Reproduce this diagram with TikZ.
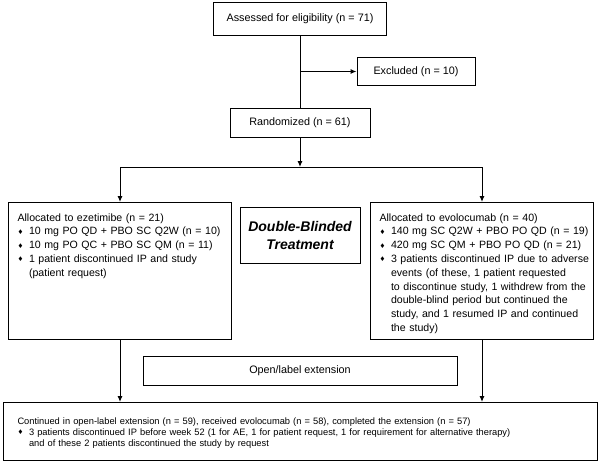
\documentclass[tikz,border=0pt]{standalone}
\usepackage{fontspec}
\setmainfont{Liberation Sans}
\newfontfamily\symfont{DejaVu Sans}
\usetikzlibrary{arrows.meta,positioning}

\newcommand{\dmd}{\makebox[11.5pt][l]{\raisebox{0.6pt}{\symfont\fontsize{6.5}{6.5}\selectfont ♦}}}
\newcommand{\itm}[1]{\mbox{\dmd#1}}
\newcommand{\cnt}[1]{\mbox{\hspace*{11.5pt}#1}}

\begin{document}
\begin{tikzpicture}[x=1pt,y=-1pt,>={Latex[length=6pt,width=5pt]},line width=1pt,
   box/.style={draw,inner sep=0pt,font=\fontsize{10.8}{13.8}\selectfont},
   listbox/.style={draw,anchor=north west,align=left,inner xsep=9pt,inner ysep=11pt,
      font=\fontsize{10.6}{13.8}\selectfont}]
   \useasboundingbox (0,0) rectangle (600,463);
   \node[box,minimum width=173pt,minimum height=33pt] (assess) at (300,18.5) {Assessed for eligibility (n = 71)};
   \node[box,minimum width=118pt,minimum height=28pt] (excl) at (416,71.5) {Excluded (n = 10)};
   \node[box,minimum width=140pt,minimum height=29pt] (rand) at (300,122.5) {Randomized (n = 61)};
   \node[listbox,text width=205pt,text depth=107pt] (ezet) at (8,202)
      {Allocated to ezetimibe (n = 21)\\
       \itm{10 mg PO QD + PBO SC Q2W (n = 10)}\\
       \itm{10 mg PO QC + PBO SC QM (n = 11)}\\
       \itm{1 patient discontinued IP and study}\\
       \cnt{(patient request)}};
   \node[box,minimum width=120pt,minimum height=56pt,align=center,
      font=\fontsize{14}{18}\selectfont\bfseries\itshape] (blind) at (300,235) {Double-Blinded\\Treatment};
   \node[listbox,text width=205pt,text depth=107pt] (evol) at (370,202)
      {Allocated to evolocumab (n = 40)\\
       \itm{140 mg SC Q2W + PBO PO QD (n = 19)}\\
       \itm{420 mg SC QM + PBO PO QD (n = 21)}\\
       \itm{3 patients discontinued IP due to adverse}\\
       \cnt{events (of these, 1 patient requested}\\
       \cnt{to discontinue study, 1 withdrew from the}\\
       \cnt{double-blind period but continued the}\\
       \cnt{study, and 1 resumed IP and continued}\\
       \cnt{the study)}};
   \node[box,minimum width=314pt,minimum height=29pt] (olext) at (300,370.5) {Open/label extension};
   \node[listbox,text width=566pt,inner xsep=14pt,inner ysep=15pt,text depth=21pt,
      font=\fontsize{9.3}{11}\selectfont] (cont) at (3,402)
      {Continued in open-label extension (n = 59), received evolocumab (n = 58), completed the extension (n = 57)\\
       \itm{3 patients discontinued IP before week 52 (1 for AE, 1 for patient request, 1 for requirement for alternative therapy)}\\
       \cnt{and of these 2 patients discontinued the study by request}};

   \coordinate (exjoin) at (assess.south |- excl.west);
   \coordinate (split) at (300,167);
   \coordinate (lsplit) at (ezet.north |- split);
   \coordinate (rsplit) at (evol.north |- split);
   \draw (assess) -- (rand);
   \draw[->] (exjoin) -- (excl);
   \draw[->] (rand) -- (split);
   \draw (lsplit) -- (rsplit);
   \draw[->] (lsplit) -- (ezet);
   \draw[->] (rsplit) -- (evol);
   \draw[->] (ezet) -- (ezet.south |- cont.north);
   \draw[->] (evol) -- (evol.south |- cont.north);
\end{tikzpicture}
\end{document}
